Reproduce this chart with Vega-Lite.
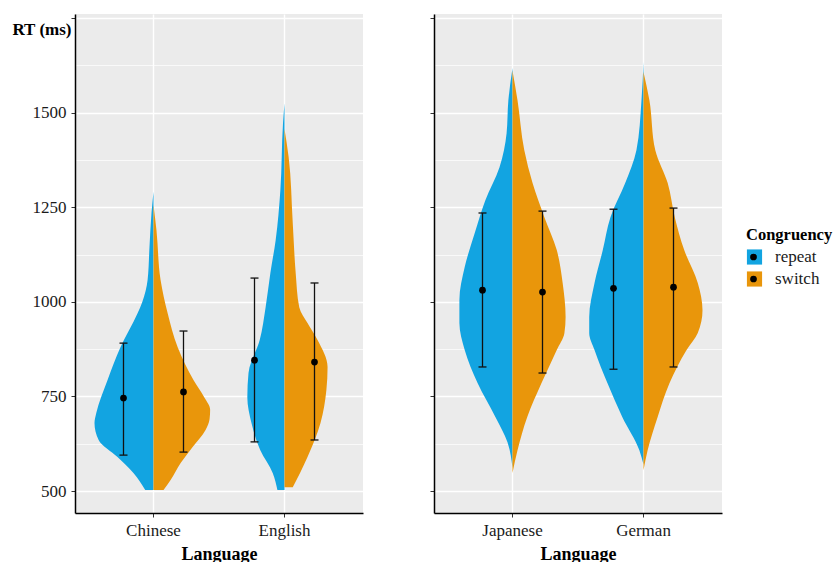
{
  "$schema": "https://vega.github.io/schema/vega-lite/v6.json",
  "padding": {"left": 11, "top": 14, "right": 0, "bottom": 0},
  "background": "white",
  "spacing": 66,
  "datasets": {
    "dens": [
      {"Language": "Chinese", "Congruency": "repeat", "RT": 1291, "density": 0},
      {"Language": "Chinese", "Congruency": "repeat", "RT": 1235, "density": 0.034},
      {"Language": "Chinese", "Congruency": "repeat", "RT": 1145, "density": 0.068},
      {"Language": "Chinese", "Congruency": "repeat", "RT": 1058, "density": 0.10},
      {"Language": "Chinese", "Congruency": "repeat", "RT": 1000, "density": 0.19},
      {"Language": "Chinese", "Congruency": "repeat", "RT": 970, "density": 0.27},
      {"Language": "Chinese", "Congruency": "repeat", "RT": 880, "density": 0.56},
      {"Language": "Chinese", "Congruency": "repeat", "RT": 793, "density": 0.78},
      {"Language": "Chinese", "Congruency": "repeat", "RT": 706, "density": 0.97},
      {"Language": "Chinese", "Congruency": "repeat", "RT": 680, "density": 1.0},
      {"Language": "Chinese", "Congruency": "repeat", "RT": 635, "density": 0.93},
      {"Language": "Chinese", "Congruency": "repeat", "RT": 590, "density": 0.61},
      {"Language": "Chinese", "Congruency": "repeat", "RT": 548, "density": 0.34},
      {"Language": "Chinese", "Congruency": "repeat", "RT": 503, "density": 0.14},
      {"Language": "Chinese", "Congruency": "switch", "RT": 1256, "density": 0},
      {"Language": "Chinese", "Congruency": "switch", "RT": 1190, "density": 0.05},
      {"Language": "Chinese", "Congruency": "switch", "RT": 1058, "density": 0.12},
      {"Language": "Chinese", "Congruency": "switch", "RT": 970, "density": 0.24},
      {"Language": "Chinese", "Congruency": "switch", "RT": 880, "density": 0.41},
      {"Language": "Chinese", "Congruency": "switch", "RT": 793, "density": 0.68},
      {"Language": "Chinese", "Congruency": "switch", "RT": 748, "density": 0.86},
      {"Language": "Chinese", "Congruency": "switch", "RT": 715, "density": 0.96},
      {"Language": "Chinese", "Congruency": "switch", "RT": 690, "density": 0.95},
      {"Language": "Chinese", "Congruency": "switch", "RT": 661, "density": 0.88},
      {"Language": "Chinese", "Congruency": "switch", "RT": 616, "density": 0.66},
      {"Language": "Chinese", "Congruency": "switch", "RT": 574, "density": 0.46},
      {"Language": "Chinese", "Congruency": "switch", "RT": 529, "density": 0.29},
      {"Language": "Chinese", "Congruency": "switch", "RT": 503, "density": 0.17},
      {"Language": "English", "Congruency": "repeat", "RT": 1525, "density": 0},
      {"Language": "English", "Congruency": "repeat", "RT": 1473, "density": 0.025},
      {"Language": "English", "Congruency": "repeat", "RT": 1295, "density": 0.07},
      {"Language": "English", "Congruency": "repeat", "RT": 1163, "density": 0.15},
      {"Language": "English", "Congruency": "repeat", "RT": 1076, "density": 0.24},
      {"Language": "English", "Congruency": "repeat", "RT": 986, "density": 0.32},
      {"Language": "English", "Congruency": "repeat", "RT": 899, "density": 0.42},
      {"Language": "English", "Congruency": "repeat", "RT": 812, "density": 0.61},
      {"Language": "English", "Congruency": "repeat", "RT": 748, "density": 0.63},
      {"Language": "English", "Congruency": "repeat", "RT": 680, "density": 0.56},
      {"Language": "English", "Congruency": "repeat", "RT": 608, "density": 0.41},
      {"Language": "English", "Congruency": "repeat", "RT": 548, "density": 0.20},
      {"Language": "English", "Congruency": "repeat", "RT": 503, "density": 0.12},
      {"Language": "English", "Congruency": "switch", "RT": 1457, "density": 0},
      {"Language": "English", "Congruency": "switch", "RT": 1383, "density": 0.07},
      {"Language": "English", "Congruency": "switch", "RT": 1208, "density": 0.14},
      {"Language": "English", "Congruency": "switch", "RT": 1076, "density": 0.19},
      {"Language": "English", "Congruency": "switch", "RT": 986, "density": 0.25},
      {"Language": "English", "Congruency": "switch", "RT": 944, "density": 0.39},
      {"Language": "English", "Congruency": "switch", "RT": 899, "density": 0.56},
      {"Language": "English", "Congruency": "switch", "RT": 828, "density": 0.73},
      {"Language": "English", "Congruency": "switch", "RT": 767, "density": 0.71},
      {"Language": "English", "Congruency": "switch", "RT": 680, "density": 0.61},
      {"Language": "English", "Congruency": "switch", "RT": 590, "density": 0.39},
      {"Language": "English", "Congruency": "switch", "RT": 510, "density": 0.14},
      {"Language": "Japanese", "Congruency": "repeat", "RT": 1618, "density": 0},
      {"Language": "Japanese", "Congruency": "repeat", "RT": 1533, "density": 0.07},
      {"Language": "Japanese", "Congruency": "repeat", "RT": 1446, "density": 0.10},
      {"Language": "Japanese", "Congruency": "repeat", "RT": 1356, "density": 0.22},
      {"Language": "Japanese", "Congruency": "repeat", "RT": 1269, "density": 0.46},
      {"Language": "Japanese", "Congruency": "repeat", "RT": 1182, "density": 0.64},
      {"Language": "Japanese", "Congruency": "repeat", "RT": 1092, "density": 0.81},
      {"Language": "Japanese", "Congruency": "repeat", "RT": 1005, "density": 0.90},
      {"Language": "Japanese", "Congruency": "repeat", "RT": 944, "density": 0.90},
      {"Language": "Japanese", "Congruency": "repeat", "RT": 873, "density": 0.81},
      {"Language": "Japanese", "Congruency": "repeat", "RT": 785, "density": 0.59},
      {"Language": "Japanese", "Congruency": "repeat", "RT": 696, "density": 0.29},
      {"Language": "Japanese", "Congruency": "repeat", "RT": 629, "density": 0.085},
      {"Language": "Japanese", "Congruency": "repeat", "RT": 561, "density": 0},
      {"Language": "Japanese", "Congruency": "switch", "RT": 1611, "density": 0},
      {"Language": "Japanese", "Congruency": "switch", "RT": 1533, "density": 0.085},
      {"Language": "Japanese", "Congruency": "switch", "RT": 1401, "density": 0.20},
      {"Language": "Japanese", "Congruency": "switch", "RT": 1314, "density": 0.34},
      {"Language": "Japanese", "Congruency": "switch", "RT": 1224, "density": 0.54},
      {"Language": "Japanese", "Congruency": "switch", "RT": 1137, "density": 0.75},
      {"Language": "Japanese", "Congruency": "switch", "RT": 1050, "density": 0.85},
      {"Language": "Japanese", "Congruency": "switch", "RT": 960, "density": 0.90},
      {"Language": "Japanese", "Congruency": "switch", "RT": 918, "density": 0.88},
      {"Language": "Japanese", "Congruency": "switch", "RT": 873, "density": 0.75},
      {"Language": "Japanese", "Congruency": "switch", "RT": 785, "density": 0.49},
      {"Language": "Japanese", "Congruency": "switch", "RT": 696, "density": 0.25},
      {"Language": "Japanese", "Congruency": "switch", "RT": 608, "density": 0.085},
      {"Language": "Japanese", "Congruency": "switch", "RT": 548, "density": 0},
      {"Language": "German", "Congruency": "repeat", "RT": 1634, "density": 0},
      {"Language": "German", "Congruency": "repeat", "RT": 1533, "density": 0.034},
      {"Language": "German", "Congruency": "repeat", "RT": 1401, "density": 0.12},
      {"Language": "German", "Congruency": "repeat", "RT": 1314, "density": 0.31},
      {"Language": "German", "Congruency": "repeat", "RT": 1224, "density": 0.56},
      {"Language": "German", "Congruency": "repeat", "RT": 1137, "density": 0.69},
      {"Language": "German", "Congruency": "repeat", "RT": 1050, "density": 0.83},
      {"Language": "German", "Congruency": "repeat", "RT": 960, "density": 0.92},
      {"Language": "German", "Congruency": "repeat", "RT": 918, "density": 0.92},
      {"Language": "German", "Congruency": "repeat", "RT": 873, "density": 0.83},
      {"Language": "German", "Congruency": "repeat", "RT": 785, "density": 0.61},
      {"Language": "German", "Congruency": "repeat", "RT": 696, "density": 0.36},
      {"Language": "German", "Congruency": "repeat", "RT": 608, "density": 0.07},
      {"Language": "German", "Congruency": "repeat", "RT": 570, "density": 0},
      {"Language": "German", "Congruency": "switch", "RT": 1608, "density": 0},
      {"Language": "German", "Congruency": "switch", "RT": 1533, "density": 0.10},
      {"Language": "German", "Congruency": "switch", "RT": 1401, "density": 0.20},
      {"Language": "German", "Congruency": "switch", "RT": 1314, "density": 0.41},
      {"Language": "German", "Congruency": "switch", "RT": 1224, "density": 0.53},
      {"Language": "German", "Congruency": "switch", "RT": 1137, "density": 0.69},
      {"Language": "German", "Congruency": "switch", "RT": 1050, "density": 0.92},
      {"Language": "German", "Congruency": "switch", "RT": 978, "density": 1.0},
      {"Language": "German", "Congruency": "switch", "RT": 918, "density": 0.92},
      {"Language": "German", "Congruency": "switch", "RT": 873, "density": 0.73},
      {"Language": "German", "Congruency": "switch", "RT": 785, "density": 0.44},
      {"Language": "German", "Congruency": "switch", "RT": 696, "density": 0.24},
      {"Language": "German", "Congruency": "switch", "RT": 608, "density": 0.07},
      {"Language": "German", "Congruency": "switch", "RT": 555, "density": 0}
    ],
    "summ": [
      {"Language": "Chinese", "Congruency": "repeat", "mean": 746, "lo": 595, "hi": 891},
      {"Language": "Chinese", "Congruency": "switch", "mean": 762, "lo": 603, "hi": 923},
      {"Language": "English", "Congruency": "repeat", "mean": 846, "lo": 630, "hi": 1063},
      {"Language": "English", "Congruency": "switch", "mean": 841, "lo": 635, "hi": 1050},
      {"Language": "Japanese", "Congruency": "repeat", "mean": 1031, "lo": 828, "hi": 1235},
      {"Language": "Japanese", "Congruency": "switch", "mean": 1026, "lo": 812, "hi": 1240},
      {"Language": "German", "Congruency": "repeat", "mean": 1036, "lo": 822, "hi": 1245},
      {"Language": "German", "Congruency": "switch", "mean": 1039, "lo": 828, "hi": 1248}
    ]
  },
  "hconcat": [
    {
      "width": 288,
      "height": 499,
      "resolve": {"scale": {"x": "independent"}},
      "layer": [
        {
          "data": {"name": "dens"},
          "transform": [{"filter": "datum.Language === 'Chinese' && datum.Congruency === 'repeat'"}],
          "mark": {"type": "area", "orient": "horizontal", "interpolate": "monotone", "opacity": 1},
          "encoding": {
            "y": {"field": "RT", "type": "quantitative", "scale": {"domain": [442, 1761], "nice": false, "zero": false},
              "axis": {"title": "RT (ms)", "titleAngle": 0, "titleAlign": "right", "titleBaseline": "middle", "titleX": -4, "titleY": 15, "titleFontWeight": "bold", "titleFontSize": 17, "values": [500, 625, 750, 875, 1000, 1125, 1250, 1375, 1500, 1625, 1750], "format": "d", "labelExpr": "datum.value % 250 === 0 && datum.value < 1750 ? datum.label : ''", "labelFontSize": 17, "labelPadding": 5, "grid": true, "gridColor": "white", "gridWidth": {"condition": {"test": "datum.value % 250 === 0", "value": 1.4}, "value": 0.7}, "tickSize": 4, "tickColor": "#333333", "tickOpacity": {"condition": {"test": "datum.value % 250 === 0", "value": 1}, "value": 0}, "domainColor": "black", "domainWidth": 1.5}},
            "x": {"field": "density", "type": "quantitative", "scale": {"domain": [-3.5508, 1.3305], "reverse": true, "nice": false, "zero": false}, "axis": null},
            "x2": {"datum": 0},
            "color": {"field": "Congruency", "type": "nominal", "scale": {"domain": ["repeat", "switch"], "range": ["#12A4E1", "#E9960B"]},
              "legend": {"title": "Congruency", "orient": "none", "legendX": 671, "legendY": 213, "symbolType": "square", "symbolSize": 230}}
          }
        },
        {
          "data": {"name": "dens"},
          "transform": [{"filter": "datum.Language === 'Chinese' && datum.Congruency === 'switch'"}],
          "mark": {"type": "area", "orient": "horizontal", "interpolate": "monotone", "opacity": 1},
          "encoding": {
            "y": {"field": "RT", "type": "quantitative", "scale": {"domain": [442, 1761], "nice": false, "zero": false}},
            "x": {"field": "density", "type": "quantitative", "scale": {"domain": [-1.3305, 3.5508], "nice": false, "zero": false}, "axis": null},
            "x2": {"datum": 0},
            "color": {"field": "Congruency", "type": "nominal"}
          }
        },
        {
          "data": {"name": "dens"},
          "transform": [{"filter": "datum.Language === 'English' && datum.Congruency === 'repeat'"}],
          "mark": {"type": "area", "orient": "horizontal", "interpolate": "monotone", "opacity": 1},
          "encoding": {
            "y": {"field": "RT", "type": "quantitative", "scale": {"domain": [442, 1761], "nice": false, "zero": false}},
            "x": {"field": "density", "type": "quantitative", "scale": {"domain": [-1.3305, 3.5508], "reverse": true, "nice": false, "zero": false}, "axis": null},
            "x2": {"datum": 0},
            "color": {"field": "Congruency", "type": "nominal"}
          }
        },
        {
          "data": {"name": "dens"},
          "transform": [{"filter": "datum.Language === 'English' && datum.Congruency === 'switch'"}],
          "mark": {"type": "area", "orient": "horizontal", "interpolate": "monotone", "opacity": 1},
          "encoding": {
            "y": {"field": "RT", "type": "quantitative", "scale": {"domain": [442, 1761], "nice": false, "zero": false}},
            "x": {"field": "density", "type": "quantitative", "scale": {"domain": [-3.5508, 1.3305], "nice": false, "zero": false}, "axis": null},
            "x2": {"datum": 0},
            "color": {"field": "Congruency", "type": "nominal"}
          }
        },
        {
          "data": {"name": "summ"},
          "transform": [{"filter": "datum.Language === 'Chinese' || datum.Language === 'English'"}],
          "encoding": {
            "x": {"field": "Language", "type": "nominal", "sort": ["Chinese", "English"], "scale": {"type": "band", "paddingInner": 0, "paddingOuter": 0.0992},
              "axis": {"title": "Language", "titleFontWeight": "bold", "titleFontSize": 18, "titlePadding": 7, "labelAngle": 0, "labelFontSize": 17, "labelPadding": 5, "grid": true, "gridColor": "white", "gridWidth": 1.4, "bandPosition": 0.5, "tickSize": 4, "tickColor": "#333333", "domainColor": "black", "domainWidth": 1.5}},
            "xOffset": {"field": "Congruency", "type": "nominal", "sort": ["repeat", "switch"], "scale": {"type": "band", "paddingInner": 0, "paddingOuter": 0.0917}}
          },
          "layer": [
            {"mark": {"type": "rule", "color": "#111111", "strokeWidth": 1.3},
             "encoding": {"y": {"field": "lo", "type": "quantitative", "scale": {"domain": [442, 1761], "nice": false, "zero": false}}, "y2": {"field": "hi"}}},
            {"mark": {"type": "tick", "color": "#111111", "orient": "horizontal", "size": 8, "thickness": 1.3, "opacity": 1},
             "encoding": {"y": {"field": "hi", "type": "quantitative", "scale": {"domain": [442, 1761], "nice": false, "zero": false}}}},
            {"mark": {"type": "tick", "color": "#111111", "orient": "horizontal", "size": 8, "thickness": 1.3, "opacity": 1},
             "encoding": {"y": {"field": "lo", "type": "quantitative", "scale": {"domain": [442, 1761], "nice": false, "zero": false}}}},
            {"mark": {"type": "point", "filled": true, "color": "black", "size": 45, "opacity": 1},
             "encoding": {"y": {"field": "mean", "type": "quantitative", "scale": {"domain": [442, 1761], "nice": false, "zero": false}},
               "shape": {"field": "Congruency", "type": "nominal", "scale": {"domain": ["switch", "repeat"], "range": ["circle", "circle"]},
                 "legend": {"title": "Congruency", "titleOpacity": 0, "labelOpacity": 0, "values": ["repeat", "switch"], "orient": "none", "legendX": 670, "legendY": 213, "symbolFillColor": "black", "symbolStrokeColor": "black", "symbolStrokeWidth": 0, "symbolSize": 45}}}}
          ]
        }
      ]
    },
    {
      "width": 288,
      "height": 499,
      "resolve": {"scale": {"x": "independent"}},
      "layer": [
        {
          "data": {"name": "dens"},
          "transform": [{"filter": "datum.Language === 'Japanese' && datum.Congruency === 'repeat'"}],
          "mark": {"type": "area", "orient": "horizontal", "interpolate": "monotone", "opacity": 1},
          "encoding": {
            "y": {"field": "RT", "type": "quantitative", "scale": {"domain": [442, 1761], "nice": false, "zero": false},
              "axis": {"title": null, "labels": false, "values": [500, 625, 750, 875, 1000, 1125, 1250, 1375, 1500, 1625, 1750], "grid": true, "gridColor": "white", "gridWidth": {"condition": {"test": "datum.value % 250 === 0", "value": 1.4}, "value": 0.7}, "tickSize": 4, "tickColor": "#333333", "tickOpacity": {"condition": {"test": "datum.value % 250 === 0", "value": 1}, "value": 0}, "domainColor": "black", "domainWidth": 1.5}},
            "x": {"field": "density", "type": "quantitative", "scale": {"domain": [-3.5508, 1.3305], "reverse": true, "nice": false, "zero": false}, "axis": null},
            "x2": {"datum": 0},
            "color": {"field": "Congruency", "type": "nominal"}
          }
        },
        {
          "data": {"name": "dens"},
          "transform": [{"filter": "datum.Language === 'Japanese' && datum.Congruency === 'switch'"}],
          "mark": {"type": "area", "orient": "horizontal", "interpolate": "monotone", "opacity": 1},
          "encoding": {
            "y": {"field": "RT", "type": "quantitative", "scale": {"domain": [442, 1761], "nice": false, "zero": false}},
            "x": {"field": "density", "type": "quantitative", "scale": {"domain": [-1.3305, 3.5508], "nice": false, "zero": false}, "axis": null},
            "x2": {"datum": 0},
            "color": {"field": "Congruency", "type": "nominal"}
          }
        },
        {
          "data": {"name": "dens"},
          "transform": [{"filter": "datum.Language === 'German' && datum.Congruency === 'repeat'"}],
          "mark": {"type": "area", "orient": "horizontal", "interpolate": "monotone", "opacity": 1},
          "encoding": {
            "y": {"field": "RT", "type": "quantitative", "scale": {"domain": [442, 1761], "nice": false, "zero": false}},
            "x": {"field": "density", "type": "quantitative", "scale": {"domain": [-1.3305, 3.5508], "reverse": true, "nice": false, "zero": false}, "axis": null},
            "x2": {"datum": 0},
            "color": {"field": "Congruency", "type": "nominal"}
          }
        },
        {
          "data": {"name": "dens"},
          "transform": [{"filter": "datum.Language === 'German' && datum.Congruency === 'switch'"}],
          "mark": {"type": "area", "orient": "horizontal", "interpolate": "monotone", "opacity": 1},
          "encoding": {
            "y": {"field": "RT", "type": "quantitative", "scale": {"domain": [442, 1761], "nice": false, "zero": false}},
            "x": {"field": "density", "type": "quantitative", "scale": {"domain": [-3.5508, 1.3305], "nice": false, "zero": false}, "axis": null},
            "x2": {"datum": 0},
            "color": {"field": "Congruency", "type": "nominal"}
          }
        },
        {
          "data": {"name": "summ"},
          "transform": [{"filter": "datum.Language === 'Japanese' || datum.Language === 'German'"}],
          "encoding": {
            "x": {"field": "Language", "type": "nominal", "sort": ["Japanese", "German"], "scale": {"type": "band", "paddingInner": 0, "paddingOuter": 0.0992},
              "axis": {"title": "Language", "titleFontWeight": "bold", "titleFontSize": 18, "titlePadding": 7, "labelAngle": 0, "labelFontSize": 17, "labelPadding": 5, "grid": true, "gridColor": "white", "gridWidth": 1.4, "bandPosition": 0.5, "tickSize": 4, "tickColor": "#333333", "domainColor": "black", "domainWidth": 1.5}},
            "xOffset": {"field": "Congruency", "type": "nominal", "sort": ["repeat", "switch"], "scale": {"type": "band", "paddingInner": 0, "paddingOuter": 0.0917}}
          },
          "layer": [
            {"mark": {"type": "rule", "color": "#111111", "strokeWidth": 1.3},
             "encoding": {"y": {"field": "lo", "type": "quantitative", "scale": {"domain": [442, 1761], "nice": false, "zero": false}}, "y2": {"field": "hi"}}},
            {"mark": {"type": "tick", "color": "#111111", "orient": "horizontal", "size": 8, "thickness": 1.3, "opacity": 1},
             "encoding": {"y": {"field": "hi", "type": "quantitative", "scale": {"domain": [442, 1761], "nice": false, "zero": false}}}},
            {"mark": {"type": "tick", "color": "#111111", "orient": "horizontal", "size": 8, "thickness": 1.3, "opacity": 1},
             "encoding": {"y": {"field": "lo", "type": "quantitative", "scale": {"domain": [442, 1761], "nice": false, "zero": false}}}},
            {"mark": {"type": "point", "filled": true, "color": "black", "size": 45, "opacity": 1},
             "encoding": {"y": {"field": "mean", "type": "quantitative", "scale": {"domain": [442, 1761], "nice": false, "zero": false}},
               "shape": {"field": "Congruency", "type": "nominal"}}}
          ]
        }
      ]
    }
  ],
  "config": {
    "font": "Liberation Serif",
    "view": {"fill": "#EBEBEB", "stroke": null},
    "axis": {"labelFont": "Liberation Serif", "titleFont": "Liberation Serif", "labelColor": "#1a1a1a", "titleColor": "#000000"},
    "legend": {
      "titleFont": "Liberation Serif",
      "titleFontSize": 16.5,
      "titleFontWeight": "bold",
      "titleColor": "#000000",
      "titlePadding": 5,
      "labelFont": "Liberation Serif",
      "labelFontSize": 17,
      "labelColor": "#1a1a1a",
      "symbolStrokeWidth": 0,
      "symbolOpacity": 1,
      "labelOffset": 12,
      "rowPadding": 4
    }
  }
}
